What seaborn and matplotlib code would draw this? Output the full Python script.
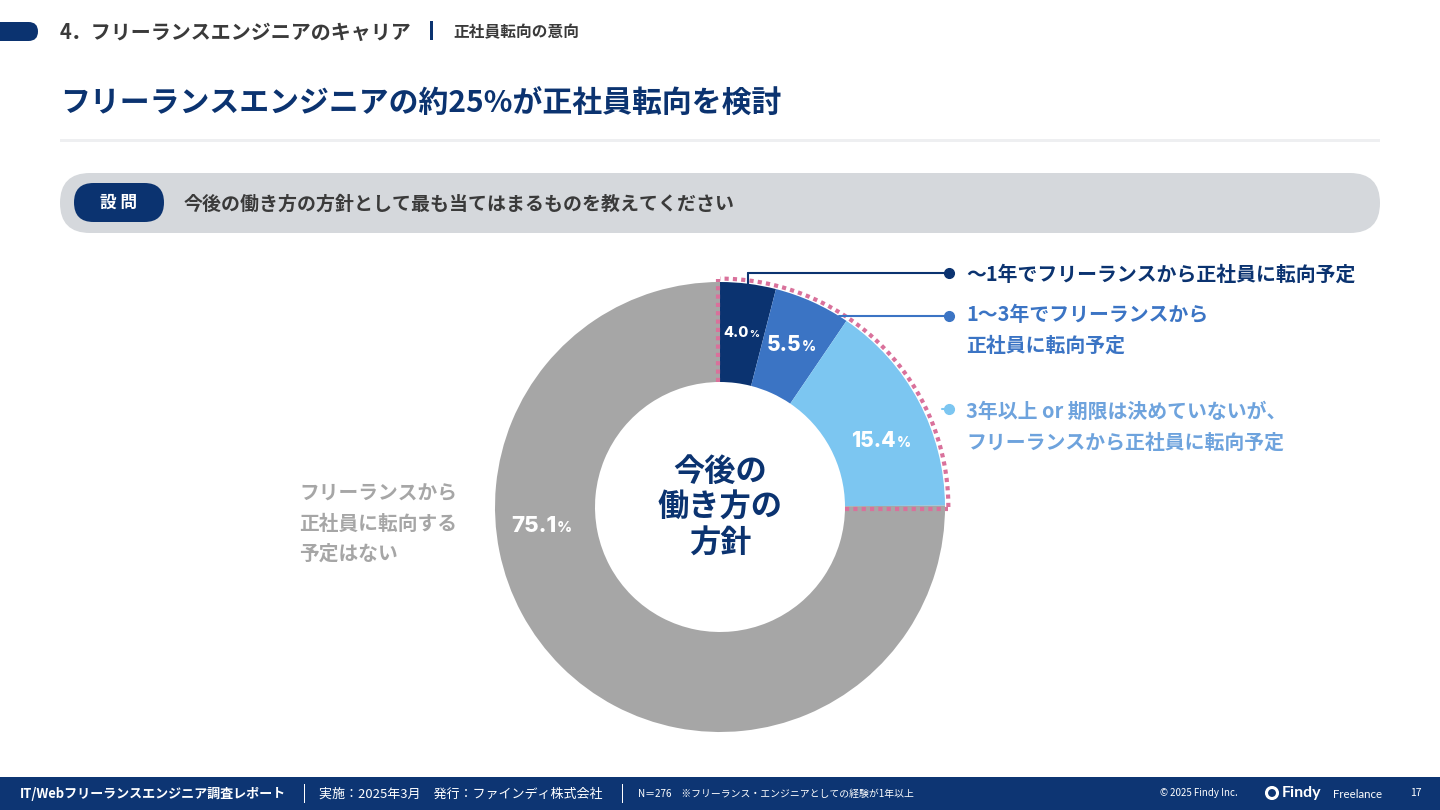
import numpy as np
import matplotlib
matplotlib.use("Agg")
import matplotlib.pyplot as plt
from matplotlib.patches import FancyBboxPatch, Rectangle, Circle
import seaborn as sns

# ---------------- data ----------------
categories = [
    "〜1年でフリーランスから正社員に転向予定",
    "1〜3年でフリーランスから\n正社員に転向予定",
    "3年以上 or 期限は決めていないが、\nフリーランスから正社員に転向予定",
    "フリーランスから\n正社員に転向する\n予定はない",
]
values = [4.0, 5.5, 15.4, 75.1]
value_labels = ["4.0", "5.5", "15.4", "75.1"]
wedge_colors = ["#0b3370", "#3b74c4", "#7cc6f1", "#a6a6a6"]
text_colors = ["#0b3370", "#3b74c4", "#6ea3dd", "#a6a6a6"]
label_sizes = [10.5, 15, 15, 16]
center_text = "今後の\n働き方の\n方針"

title = "フリーランスエンジニアの約25%が正社員転向を検討"
section = "4．フリーランスエンジニアのキャリア"
subsection = "正社員転向の意向"
question = "今後の働き方の方針として最も当てはまるものを教えてください"

NAVY = "#0b3370"
PINK = "#d9719b"

sns.set_theme(style="white")
plt.rcParams["font.family"] = ["Noto Sans CJK JP", "DejaVu Sans"]
NUMFONT = ["Inter", "DejaVu Sans"]

fig = plt.figure(figsize=(14.4, 8.1), dpi=100)
bg = fig.add_axes([0, 0, 1, 1])
bg.set_xlim(0, 1440)
bg.set_ylim(810, 0)
bg.axis("off")
bg.set_zorder(0)

# ---------------- header ----------------
bg.add_patch(FancyBboxPatch((-30, 22), 68, 19, boxstyle="round,pad=0,rounding_size=9.5",
                            fc=NAVY, ec="none"))
bg.text(60, 32, section, fontsize=14.4, fontweight="bold", color="#3a3a3a", va="center", ha="left")
bg.add_patch(Rectangle((430, 21), 2.5, 19, fc=NAVY, ec="none"))
bg.text(453, 32, subsection, fontsize=11.3, fontweight="bold", color="#3a3a3a", va="center", ha="left")

bg.text(60, 104, title, fontsize=21.5, fontweight="bold", color=NAVY, va="center", ha="left")
bg.add_patch(Rectangle((60, 139), 1320, 3, fc="#eeeff1", ec="none"))

# question bar
bg.add_patch(FancyBboxPatch((60, 173), 1320, 60, boxstyle="round,pad=0,rounding_size=30",
                            fc="#d5d8dc", ec="none"))
bg.add_patch(FancyBboxPatch((74, 183), 90, 39, boxstyle="round,pad=0,rounding_size=19.5",
                            fc=NAVY, ec="none"))
bg.text(119, 203, "設 問", fontsize=12, fontweight="bold", color="white", va="center", ha="center")
bg.text(184, 204, question, fontsize=13.65, fontweight="bold", color="#3a3a3a", va="center", ha="left")

# ---------------- footer ----------------
bg.add_patch(Rectangle((0, 777), 1440, 33, fc="#0d3573", ec="none"))
fy = 794
bg.text(20, fy, "IT/Webフリーランスエンジニア調査レポート", fontsize=9.4, fontweight="bold",
        color="white", va="center", ha="left")
bg.add_patch(Rectangle((303.5, 784), 1, 19, fc="white", ec="none"))
bg.text(319, fy, "実施：2025年3月　発行：ファインディ株式会社", fontsize=9.4, color="white",
        va="center", ha="left")
bg.add_patch(Rectangle((622, 784), 1, 19, fc="white", ec="none"))
bg.text(638, fy, "N＝276　※フリーランス・エンジニアとしての経験が1年以上", fontsize=7.1,
        color="white", va="center", ha="left")
bg.text(1160, fy - 1, "© 2025 Findy Inc.", fontsize=7, color="white", va="center", ha="left")
bg.add_patch(Circle((1272, fy - 1), 5.5, fc="none", ec="white", lw=2.2))
bg.text(1282, fy - 1, "Findy", fontsize=11.5, fontweight="bold", color="white", va="center", ha="left",
        family=["Lato", "DejaVu Sans"])
bg.text(1333, fy, "Freelance", fontsize=8.3, color="white", va="center", ha="left",
        family=["Lato", "DejaVu Sans"])
bg.text(1410, fy - 1, "17", fontsize=7.5, color="white", va="center", ha="left")

# ---------------- donut ----------------
ax = fig.add_axes([0, 0, 1, 1])
ax.set_zorder(1)
ax.patch.set_alpha(0)
R_PX = 225.0
CX, CY = 720.0, 507.0
RING = 100 / R_PX
wedges, _ = ax.pie(values, colors=wedge_colors, startangle=90, counterclock=False,
                   radius=1.0, wedgeprops=dict(width=RING, linewidth=0))
ax.set_xlim(-CX / R_PX, (1440 - CX) / R_PX)
ax.set_ylim(-(810 - CY) / R_PX, CY / R_PX)
ax.set_aspect("equal")
ax.axis("off")

def px(x, y):
    return ((x - CX) / R_PX, (CY - y) / R_PX)

# percentage labels
radii = [0.78, 0.79, 0.78, 0.79]
for i, (w, lab, fs) in enumerate(zip(wedges, value_labels, label_sizes)):
    mid = np.deg2rad((w.theta1 + w.theta2) / 2)
    if i == 2:
        mid = np.deg2rad(22)
    if i == 3:
        mid = np.deg2rad(186)
    r = radii[i]
    x, y = r * np.cos(mid), r * np.sin(mid)
    t = ax.text(x - 0.04 * fs / 15, y, lab, fontsize=fs, fontweight="heavy", color="white",
                ha="center", va="center", family=NUMFONT)
    ax.annotate("%", xy=(1, 0.2), xycoords=t, xytext=(0.3, 0), textcoords="offset points",
                fontsize=fs * 0.66, fontweight="heavy", color="white", ha="left", va="baseline",
                family=NUMFONT)

# center text
ax.text(0, -0.005, center_text, fontsize=22.5, fontweight="bold", color=NAVY, ha="center",
        va="center", linespacing=1.15)

# dotted outline around the first ~25% quarter
theta = np.linspace(0, np.pi / 2, 200)
ro = 1.015
rin = 1 - RING
dot = dict(color=PINK, lw=3, ls=(0, (1, 1)), solid_capstyle="butt", zorder=5)
ax.plot(ro * np.cos(theta), ro * np.sin(theta), **dot)
ax.plot([-0.008, -0.008], [rin, ro], **dot)
ax.plot([rin, ro], [-0.008, -0.008], **dot)

# leader lines + legend
row_y = [273, 316, 409]
text_top = [None, 304, 401]
dot_x = 949
for i in range(3):
    w = wedges[i]
    ly = (CY - row_y[i]) / R_PX
    if i == 0:
        mid = np.deg2rad((w.theta1 + w.theta2) / 2)
        sx = np.cos(mid) * 1.0
        ax.plot([sx, sx], [np.sin(mid) * 1.0, ly], color=wedge_colors[i], lw=1.5, zorder=6,
                clip_on=False)
    elif i == 1:
        sx = np.sqrt(max(1 - ly ** 2, 0)) * 1.0
    else:
        sx = (942 - CX) / R_PX
    ex = (dot_x - CX) / R_PX
    ax.plot([sx, ex], [ly, ly], color=wedge_colors[i], lw=1.5, zorder=6, clip_on=False)
    ax.plot([ex], [ly], "o", color=wedge_colors[i], ms=7, zorder=7, clip_on=False)
    if text_top[i] is not None:
        tx, ty = px(966, text_top[i])
        va = "top"
    else:
        tx, ty = px(966, row_y[i] + 1)
        va = "center"
    ax.text(tx, ty, categories[i], fontsize=14.3, fontweight="bold", color=text_colors[i],
            ha="left", va=va, linespacing=1.55, clip_on=False)

# left label for the largest group
lx, ly = px(299, 524)
ax.text(lx, ly, categories[3], fontsize=14.2, fontweight="bold", color=text_colors[3],
        ha="left", va="center", linespacing=1.7)

fig.savefig("out.png", dpi=100)
